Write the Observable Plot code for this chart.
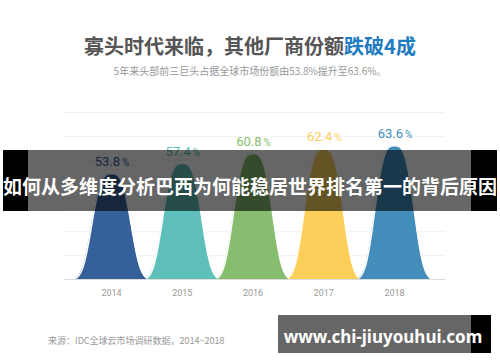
<!DOCTYPE html>
<html>
<head>
<meta charset="utf-8">
<script src="https://cdn.jsdelivr.net/npm/d3@7"></script>
<script src="https://cdn.jsdelivr.net/npm/@observablehq/plot@0.6"></script>
<style>
  html, body { margin: 0; padding: 0; background: #fff; }
  #wrap { position: relative; width: 500px; height: 362px; overflow: hidden; background: #fff; font-family: "Noto Sans CJK SC", "Noto Sans", sans-serif; }
  #chart { position: absolute; left: 0; top: 0; }
  .abs { position: absolute; white-space: nowrap; }
  #title { left: 0; width: 500px; top: 35px; text-align: center; font-size: 20px; line-height: 22px; font-weight: 700; color: #555; }
  #title span { color: #1f7cc1; }
  #subtitle { left: 0; width: 500px; top: 64px; text-align: center; font-size: 10px; line-height: 14px; color: #999; }
  #source { left: 48px; top: 334px; font-size: 9px; line-height: 14px; color: #999; }
  .blk { position: absolute; background: #000; }
  .dim { position: absolute; background: rgba(0,0,0,0.6); }
  #banner { left: 0; width: 500px; top: 170px; text-align: center; font-size: 19px; line-height: 32px; font-weight: 700; color: #fff; }
  #wm { left: 278px; width: 210px; top: 323px; text-align: center; font-family: "Noto Sans", sans-serif; font-size: 17px; line-height: 28px; font-weight: 700; color: #fff; }
</style>
</head>
<body>
<div id="wrap">
  <div id="chart"></div>
  <div class="abs" id="title">寡头时代来临，其他厂商份额<span>跌破4成</span></div>
  <div class="abs" id="subtitle">5年来头部前三巨头占据全球市场份额由53.8%提升至63.6%。</div>
  <div class="abs" id="source">来源：IDC全球云市场调研数据，2014~2018</div>
  <div class="blk" style="left:3px;top:150px;width:25px;height:61px"></div>
  <div class="dim" style="left:28px;top:150px;width:443px;height:61px"></div>
  <div class="blk" style="left:471px;top:150px;width:26px;height:61px"></div>
  <div class="abs" id="banner">如何从多维度分析巴西为何能稳居世界排名第一的背后原因</div>
  <div class="dim" style="left:278px;top:315px;width:193px;height:38px"></div>
  <div class="blk" style="left:471px;top:315px;width:20px;height:38px"></div>
  <div class="abs" id="wm">www.chi-jiuyouhui.com</div>
</div>
<script>
// Data
const years = [2014, 2015, 2016, 2017, 2018];
const shares = [53.8, 57.4, 60.8, 62.4, 63.6];
const colors = ["#35609a", "#5fbfba", "#86bd6e", "#fbcf5a", "#438dbb"];

// scale setup (styling)
const lo = 16.7, hi = 75.3;
const s = 0.318, p = 3.2;

const bells = [];
years.forEach((yr, i) => {
  d3.range(-0.5, 0.5001, 0.005).forEach(t => {
    bells.push({year: yr, x: yr + t, y: lo + (shares[i] - lo) * Math.exp(-Math.pow(Math.abs(t) / s, p))});
  });
});
const labels = years.map((yr, i) => ({year: yr, value: shares[i]}));
const grid = d3.range(1, 8).map(k => lo + k * (hi - lo) / 7);

const chart = Plot.plot({
  width: 500,
  height: 362,
  marginLeft: 64,
  marginRight: 55,
  marginTop: 112,
  marginBottom: 83,
  x: {domain: [2013.336, 2018.72], axis: null},
  y: {domain: [lo, hi], axis: null},
  color: {type: "ordinal", domain: years, range: colors},
  style: {background: "transparent"},
  marks: [
    Plot.ruleY(grid, {stroke: "#f0f0f0", strokeWidth: 1}),
    Plot.areaY(bells, {x: "x", y1: lo, y2: "y", z: "year", fill: "year", curve: "linear"}),
    Plot.line(bells, {x: "x", y: "y", z: "year", stroke: "#fff", strokeWidth: 1.5}),
    Plot.ruleY([lo], {stroke: "#dcdcdc", strokeWidth: 1}),
    Plot.text(labels, {x: "year", y: "value", text: d => d.value.toFixed(1), fill: "year", dx: 8.5, dy: -12, textAnchor: "end", fontSize: 13, fontFamily: "Roboto"}),
    Plot.text(labels, {x: "year", y: "value", text: d => "%", fill: "year", dx: 10.5, dy: -11, textAnchor: "start", fontSize: 10, fontFamily: "Roboto"}),
    Plot.text(years, {x: d => d, y: lo, dy: 14, text: d => String(d), fill: "#999", fontSize: 9, fontFamily: "Roboto"})
  ]
});
document.getElementById("chart").appendChild(chart);
</script>
</body>
</html>
